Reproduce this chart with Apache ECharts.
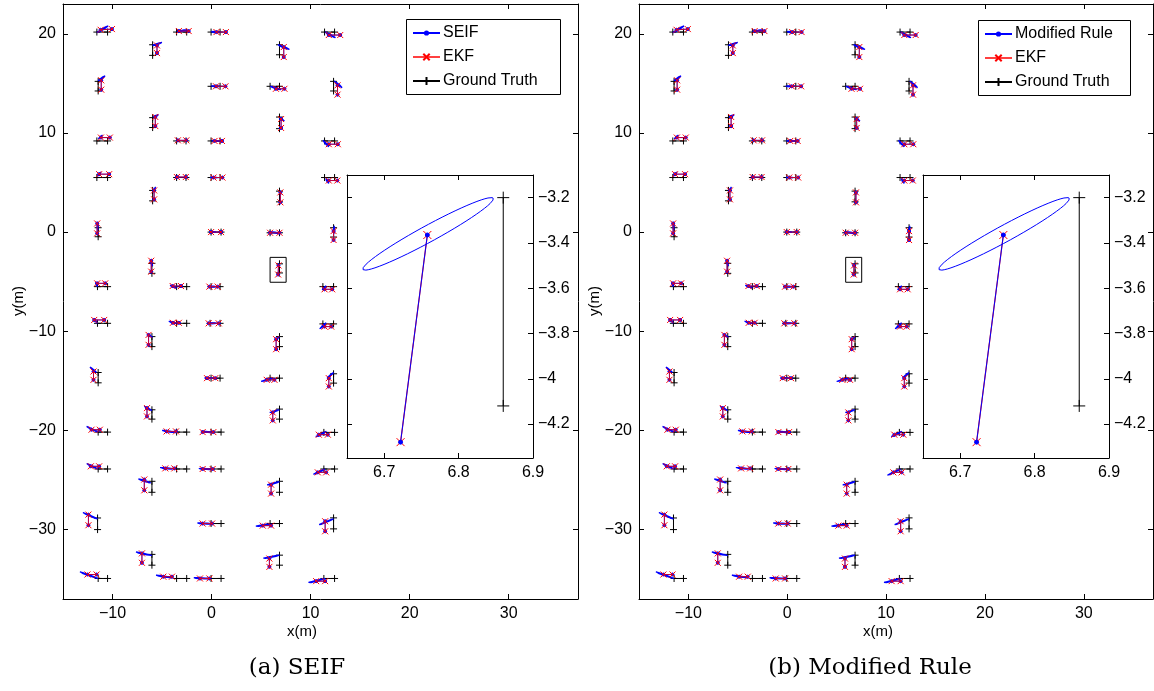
<!DOCTYPE html>
<html><head><meta charset="utf-8">
<script src="https://cdn.jsdelivr.net/npm/echarts@6/dist/echarts.min.js"></script>
<style>html,body{margin:0;padding:0;background:#fff}#c{width:1154px;height:691px}</style>
</head><body><div id="c"></div>
<script>
// ---------------- DATA (metres) ----------------
const panelNames = ['SEIF', 'Modified Rule'];
const captions = ['(a) SEIF', '(b) Modified Rule'];
const seriesNames = ['EKF', 'Ground Truth'];
const axisTitles = ['x(m)', 'y(m)'];

const mainXRange = [-15, 37];
const mainYRange = [-37, 23];
const insetXRange = [6.65, 6.9];
const insetYRange = [-4.35, -3.1];

// ground truth landmark pairs [x1,y1,x2,y2]
const groundTruth = [
 [-11.58,20.17,-10.50,20.17],[-5.95,18.89,-5.95,17.82],[-3.53,20.17,-2.51,20.17],[-0.05,20.17,0.86,20.17],
 [6.86,18.89,6.86,17.88],[11.41,20.17,12.42,20.17],[-11.45,15.2,-11.45,14.23],[-0.05,14.7,0.86,14.7],
 [5.91,14.7,6.86,14.7],[12.32,15.2,12.32,14.23],[-11.58,9.19,-10.5,9.19],[-5.95,11.54,-5.95,10.54],
 [-3.53,9.19,-2.58,9.19],[-0.05,9.19,0.86,9.19],[6.86,11.6,6.86,10.43],[11.41,9.19,12.42,9.19],
 [-11.58,5.5,-10.5,5.5],[-3.53,5.5,-2.58,5.5],[-0.05,5.5,0.86,5.5],[11.41,5.5,12.42,5.5],
 [-5.95,4.2,-5.95,3.15],[6.86,4.13,6.86,3.05],[-11.45,0.44,-11.45,-0.47],[-0.05,0,0.96,0],
 [5.91,-0.07,6.86,-0.07],[12.32,0.44,12.32,-0.5],[-6.02,-3.15,-6.02,-4.16],[6.86,-3.2,6.86,-4.12],
 [-11.52,-5.5,-10.5,-5.5],[-3.53,-5.5,-2.51,-5.5],[-0.05,-5.5,0.86,-5.5],[11.24,-5.5,12.32,-5.5],
 [-11.52,-9.2,-10.5,-9.2],[-6.02,-10.54,-6.02,-11.55],[-3.53,-9.2,-2.51,-9.2],[-0.15,-9.2,0.86,-9.2],
 [6.86,-10.54,6.86,-11.55],[11.24,-9.26,12.32,-9.26],[-11.45,-14.16,-11.45,-15.2],[-0.05,-14.73,0.86,-14.73],
 [5.91,-14.73,6.86,-14.73],[12.32,-14.29,12.32,-15.23],[-6.02,-17.92,-6.02,-18.86],[6.86,-17.85,6.86,-18.86],
 [-11.45,-20.17,-10.5,-20.17],[-3.53,-20.17,-2.51,-20.17],[-0.05,-20.17,0.96,-20.17],[11.34,-20.2,12.42,-20.2],
 [-11.45,-23.89,-10.5,-23.89],[-3.53,-23.89,-2.51,-23.89],[-0.05,-23.89,0.96,-23.89],[11.34,-23.89,12.42,-23.89],
 [-6.02,-25.13,-6.02,-26.24],[6.86,-25.13,6.86,-26.24],[-11.51,-28.83,-11.51,-30.0],[-0.05,-29.39,0.96,-29.39],
 [5.91,-29.39,6.86,-29.39],[12.32,-28.82,12.32,-29.93],[-6.02,-32.5,-6.02,-33.59],[6.86,-32.58,6.86,-33.59],
 [-11.45,-34.93,-10.5,-34.93],[-3.53,-34.93,-2.51,-34.93],[-0.05,-34.93,0.96,-34.93],[11.34,-34.93,12.42,-34.93]
];

// EKF estimates of the same landmark pairs
const ekfEstimate = [
 [-11.2,20.4,-10.06,20.47],[-5.51,18.82,-5.51,18.05],[-3.3,20.27,-2.31,20.27],[0.5,20.17,1.45,20.17],
 [7.29,18.66,7.29,17.65],[11.84,19.87,12.99,19.87],[-11.14,15.3,-11.14,14.36],[0.45,14.7,1.4,14.7],
 [6.5,14.45,7.36,14.45],[12.72,14.8,12.72,13.86],[-11.17,9.53,-10.27,9.53],[-5.68,11.61,-5.68,10.69],
 [-3.4,9.25,-2.55,9.25],[0.3,9.19,1.05,9.19],[7.02,11.4,7.02,10.5],[11.84,8.86,12.75,8.86],
 [-11.35,5.84,-10.34,5.84],[-3.5,5.55,-2.6,5.55],[0.2,5.5,1.1,5.5],[11.84,5.2,12.7,5.2],
 [-5.8,4.2,-5.8,3.3],[6.95,4.0,6.95,3.0],[-11.55,0.87,-11.55,-0.13],[-0.05,0,0.96,0],
 [5.91,-0.07,6.86,-0.07],[12.32,0.1,12.32,-0.8],[-6.09,-2.89,-6.09,-3.99],[6.758,-3.365,6.722,-4.28],
 [-11.55,-5.17,-10.74,-5.17],[-3.93,-5.44,-3.09,-5.44],[-0.22,-5.5,0.62,-5.5],[11.41,-5.77,12.18,-5.77],
 [-11.85,-8.86,-10.84,-8.86],[-6.36,-10.37,-6.36,-11.37],[-3.9,-9.15,-3.3,-9.15],[-0.29,-9.2,0.72,-9.2],
 [6.52,-10.8,6.52,-11.81],[11.41,-9.53,12.08,-9.53],[-11.92,-14.06,-11.92,-14.9],[-0.46,-14.73,0.38,-14.73],
 [5.57,-14.9,6.35,-14.9],[11.84,-14.73,11.84,-15.57],[-6.52,-17.75,-6.52,-18.59],[6.18,-18.19,6.18,-18.99],
 [-12.12,-19.93,-11.28,-19.93],[-4.54,-20.1,-3.59,-20.1],[-0.9,-20.17,0.18,-20.17],[10.83,-20.43,11.74,-20.43],
 [-12.19,-23.62,-11.35,-23.62],[-4.67,-23.83,-3.76,-23.83],[-0.9,-23.89,0.11,-23.89],[10.73,-24.23,11.57,-24.23],
 [-6.79,-24.95,-6.79,-26.04],[6.01,-25.47,6.01,-26.37],[-12.43,-28.49,-12.43,-29.56],[-0.9,-29.39,0.05,-29.39],
 [5.17,-29.6,6.01,-29.6],[11.47,-29.16,11.47,-30.17],[-7.03,-32.4,-7.03,-33.35],[5.84,-32.92,5.84,-33.76],
 [-12.53,-34.53,-11.61,-34.53],[-4.87,-34.75,-4.0,-34.75],[-1.17,-34.93,-0.22,-34.93],[10.56,-35.2,11.47,-35.2]
];

// SEIF / Modified-rule estimates coincide with the EKF ones at this scale
const seifEstimate = ekfEstimate;

// SEIF covariance ellipses: major-axis ends [x1,y1,x2,y2] and minor half-width
const seifEllipses = [
 [-11.58,20.10,-10.43,20.8,0.06],[-6.05,18.76,-5.0,19.13,0.06],[-3.6,20.17,-2.5,20.4,0.06],[-0.2,20.17,0.8,20.17,0.06],
 [6.7,18.89,7.87,18.42,0.06],[11.24,20.27,12.52,19.6,0.06],[-11.58,15.14,-10.74,15.77,0.06],[-0.2,14.7,0.8,14.7,0.05],
 [5.91,14.7,7.02,14.36,0.05],[12.25,15.3,13.19,14.57,0.06],[-11.58,9.19,-11.01,9.8,0.05],[-5.95,11.54,-5.35,11.85,0.05],
 [-3.65,9.3,-3.25,9.2,0.05],[-0.15,9.19,0.85,9.19,0.05],[6.76,11.6,7.36,11.2,0.05],[11.24,9.26,11.84,8.59,0.05],
 [-11.58,5.5,-11.17,6.07,0.05],[-3.65,5.6,-3.25,5.5,0.05],[-0.15,5.5,0.6,5.5,0.05],[11.4,5.55,11.84,4.9,0.05],
 [-5.95,3.95,-5.65,4.55,0.05],[6.8,4.2,7.05,3.8,0.05],[-11.5,1.14,-11.5,0.2,0.05],[-0.05,0,0.5,0,0.04],
 [5.8,0.05,6.9,-0.15,0.05],[12.35,0.7,12.4,-0.13,0.05],[-6.22,-2.82,-5.95,-3.42,0.05],[6.673,-3.52,6.845,-3.2,0.02],
 [-11.85,-4.83,-11.5,-5.5,0.05],[-4.27,-5.37,-3.53,-5.64,0.05],[-0.49,-5.5,0.5,-5.5,0.05],[11.07,-6.0,11.57,-5.4,0.05],
 [-12.0,-8.6,-11.52,-9.2,0.05],[-6.56,-10.27,-5.95,-10.6,0.05],[-4.44,-9.0,-3.53,-9.2,0.05],[-0.49,-9.2,0.5,-9.2,0.05],
 [6.28,-11.04,6.86,-10.54,0.05],[10.9,-9.8,11.57,-9.13,0.05],[-12.29,-13.62,-11.61,-14.16,0.05],[-0.83,-14.73,0.1,-14.73,0.05],
 [5.0,-15.07,6.2,-14.73,0.05],[11.57,-14.83,12.32,-14.16,0.05],[-6.96,-17.52,-6.02,-17.99,0.05],[5.78,-18.25,6.86,-17.92,0.05],
 [-12.63,-19.6,-11.45,-20.17,0.05],[-5.0,-20.0,-3.76,-20.2,0.05],[-1.06,-20.1,0.1,-20.2,0.05],[10.33,-20.77,11.6,-20.1,0.05],
 [-12.79,-23.29,-11.45,-23.89,0.05],[-5.21,-23.75,-3.93,-23.89,0.05],[-1.3,-23.85,0.05,-23.92,0.05],[10.12,-24.53,11.47,-23.89,0.05],
 [-7.4,-24.9,-6.12,-25.3,0.05],[5.44,-25.57,6.86,-25.17,0.05],[-13.1,-28.25,-11.51,-28.92,0.05],[-1.64,-29.35,0.05,-29.42,0.05],
 [4.33,-29.7,5.9,-29.45,0.05],[10.77,-29.56,12.32,-28.92,0.05],[-7.8,-32.25,-6.02,-32.61,0.05],[5.07,-32.95,6.86,-32.58,0.05],
 [-13.43,-34.23,-11.45,-34.93,0.05],[-5.78,-34.6,-3.93,-34.85,0.05],[-1.97,-34.87,-0.05,-34.95,0.05],[9.55,-35.43,11.47,-34.93,0.05]
];

const insetLandmark = 27;              // index of the magnified landmark
const zoomBox = [5.91, 7.53, -5.06, -2.55]; // [xmin,xmax,ymin,ymax] of the marker rectangle

// ---------------- helpers ----------------
const BREAK = ['-', '-'];
function segData(arr) {
  const d = [];
  arr.forEach(s => { d.push([s[0], s[1]], [s[2], s[3]], BREAK); });
  return d;
}
function ellipseData(arr) {
  const d = [];
  arr.forEach(e => {
    const [x1, y1, x2, y2, w] = e;
    const cx = (x1 + x2) / 2, cy = (y1 + y2) / 2, ux = (x2 - x1) / 2, uy = (y2 - y1) / 2;
    const L = Math.hypot(ux, uy) || 1, nx = -uy / L * w, ny = ux / L * w;
    for (let i = 0; i <= 60; i++) {
      const t = 2 * Math.PI * i / 60;
      d.push([cx + Math.cos(t) * ux + Math.sin(t) * nx, cy + Math.cos(t) * uy + Math.sin(t) * ny]);
    }
    d.push(BREAK);
  });
  return d;
}
function boxData(b) {
  return [[b[0], b[2]], [b[1], b[2]], [b[1], b[3]], [b[0], b[3]], [b[0], b[2]]];
}
const fmt = v => { const r = Math.round(v * 10) / 10; return String(r).replace('-', '\u2212'); };

const FONT = 'Liberation Sans';
const PLUS = 'path://M5,0L5,10M0,5L10,5';
const CROSS = 'path://M0,0L10,10M10,0L0,10';
const BLUE = '#0000ff', RED = '#ff0000';

function mkAxis(gridIndex, range, split, position, showLabel, showMax) {
  return {
    type: 'value', gridIndex, min: range[0], max: range[1], splitNumber: split, position,
    splitLine: { show: false },
    axisLine: { show: true, onZero: false, lineStyle: { color: '#000', width: 1 } },
    axisTick: { show: true, inside: true, length: 5, lineStyle: { color: '#000', width: 1 } },
    axisLabel: { show: showLabel, color: '#000', fontSize: 16, fontFamily: FONT, margin: 7,
      showMinLabel: false, showMaxLabel: !!showMax, formatter: fmt },
    z: 10
  };
}

const layout = [
  { gl: 63, gw: 515, il: 347, legL: 406, legT: 19, legW: 154 },
  { gl: 639, gw: 514, il: 923, legL: 978, legT: 20, legW: 152 }
];
const legendRows = [33, 57, 81];       // centre of each legend row (px)
const legendIconH = [4, 8, 10];        // icon box heights -> symbol sizes

const option = {
  animation: false, backgroundColor: '#fff',
  textStyle: { fontFamily: FONT },
  grid: [], xAxis: [], yAxis: [], series: [], legend: [], graphic: []
};

function line(name, xi, yi, data, color, symbol, size, z, extra) {
  return Object.assign({
    type: 'line', name, xAxisIndex: xi, yAxisIndex: yi, data,
    connectNulls: false, symbol, symbolSize: size, showSymbol: symbol !== 'none',
    lineStyle: { color, width: 1 },
    itemStyle: { color, borderColor: color, borderWidth: 1 },
    emphasis: { disabled: true }, silent: true, z, clip: true
  }, extra || {});
}

for (let p = 0; p < 2; p++) {
  const L = layout[p];
  option.grid.push({ left: L.gl, top: 4, width: L.gw, height: 595 });
  option.grid.push({ left: L.il, top: 175, width: 186, height: 283, backgroundColor: '#fff', show: true, borderWidth: 0, z: 5 });
  const gm = p * 2, gi = p * 2 + 1;
  option.xAxis.push(mkAxis(gm, mainXRange, 5, 'bottom', true, false));
  option.xAxis.push(mkAxis(gm, mainXRange, 5, 'top', false, false));
  option.xAxis.push(mkAxis(gi, insetXRange, 3, 'bottom', true, true));
  option.xAxis.push(mkAxis(gi, insetXRange, 3, 'top', false, false));
  option.yAxis.push(mkAxis(gm, mainYRange, 5, 'left', true, false));
  option.yAxis.push(mkAxis(gm, mainYRange, 5, 'right', false, false));
  const iy = mkAxis(gi, insetYRange, 6, 'right', true, false);
  iy.axisLabel.margin = 5;
  option.yAxis.push(iy);
  option.yAxis.push(mkAxis(gi, insetYRange, 6, 'left', false, false));

  const mx = p * 4, ix = p * 4 + 2;
  const nm = panelNames[p];
  // main panel
  option.series.push(line(nm, mx, mx, segData(seifEstimate), BLUE, 'circle', 3, 3));
  option.series.push(line(nm + ' covariance', mx, mx, ellipseData(seifEllipses), BLUE, 'none', 0, 3,
    { lineStyle: { color: BLUE, width: 1.2 } }));
  option.series.push(line(seriesNames[0], mx, mx, segData(ekfEstimate), RED, CROSS, 6, 4,
    { lineStyle: { color: RED, width: 1, opacity: 0.75 } }));
  option.series.push(line(seriesNames[1], mx, mx, segData(groundTruth), '#000', PLUS, 7, 2));
  option.series.push(line('zoom box', mx, mx, boxData(zoomBox), '#000', 'none', 0, 2));
  // inset
  option.series.push(line(nm + ' inset', ix, ix, segData([seifEstimate[insetLandmark]]), BLUE, 'circle', 4, 13));
  option.series.push(line(nm + ' covariance inset', ix, ix, ellipseData([seifEllipses[insetLandmark]]), BLUE, 'none', 0, 13));
  option.series.push(line('EKF inset', ix, ix, segData([ekfEstimate[insetLandmark]]), RED, CROSS, 8, 12,
    { lineStyle: { color: RED, width: 1.2, opacity: 0.9 } }));
  option.series.push(line('GT inset', ix, ix, segData([groundTruth[insetLandmark]]), '#000', PLUS, 12, 12));

  // legend: border box + one row per entry (so each row can have its own marker size)
  option.graphic.push({ type: 'rect', z: 30, shape: { x: L.legL + 0.5, y: L.legT + 0.5, width: L.legW, height: 75 },
    style: { fill: '#fff', stroke: '#000', lineWidth: 1 } });
  const names = [nm, seriesNames[0], seriesNames[1]];
  names.forEach((n, k) => {
    option.legend.push({
      data: [n], left: L.legL + 6, top: legendRows[k] + (p ? 1 : 0) - 8, orient: 'vertical',
      padding: 0, itemWidth: 27, itemHeight: legendIconH[k], itemGap: 0,
      textStyle: { fontSize: 16, lineHeight: 16, fontFamily: FONT, color: '#000', padding: [0, 0, 0, -2] },
      selectedMode: false, z: 40, zlevel: 0
    });
  });

  const off = p === 0 ? 0 : 576;
  option.graphic.push({ type: 'text', x: 302 + off, y: 632, style: { text: axisTitles[0], font: '15px "Liberation Sans"', fill: '#000', align: 'center', verticalAlign: 'middle' } });
  option.graphic.push({ type: 'text', x: 19 + off, y: 301, rotation: Math.PI / 2, style: { text: axisTitles[1], font: '15px "Liberation Sans"', fill: '#000', align: 'center', verticalAlign: 'middle' } });
  option.graphic.push({ type: 'text', x: p === 0 ? 297 : 870, y: 668, style: { text: captions[p], font: '23px "DejaVu Serif"', fill: '#000', align: 'center', verticalAlign: 'middle' } });
}

const chart = echarts.init(document.getElementById('c'), null, { renderer: 'canvas' });
chart.setOption(option);
</script>
</body></html>
